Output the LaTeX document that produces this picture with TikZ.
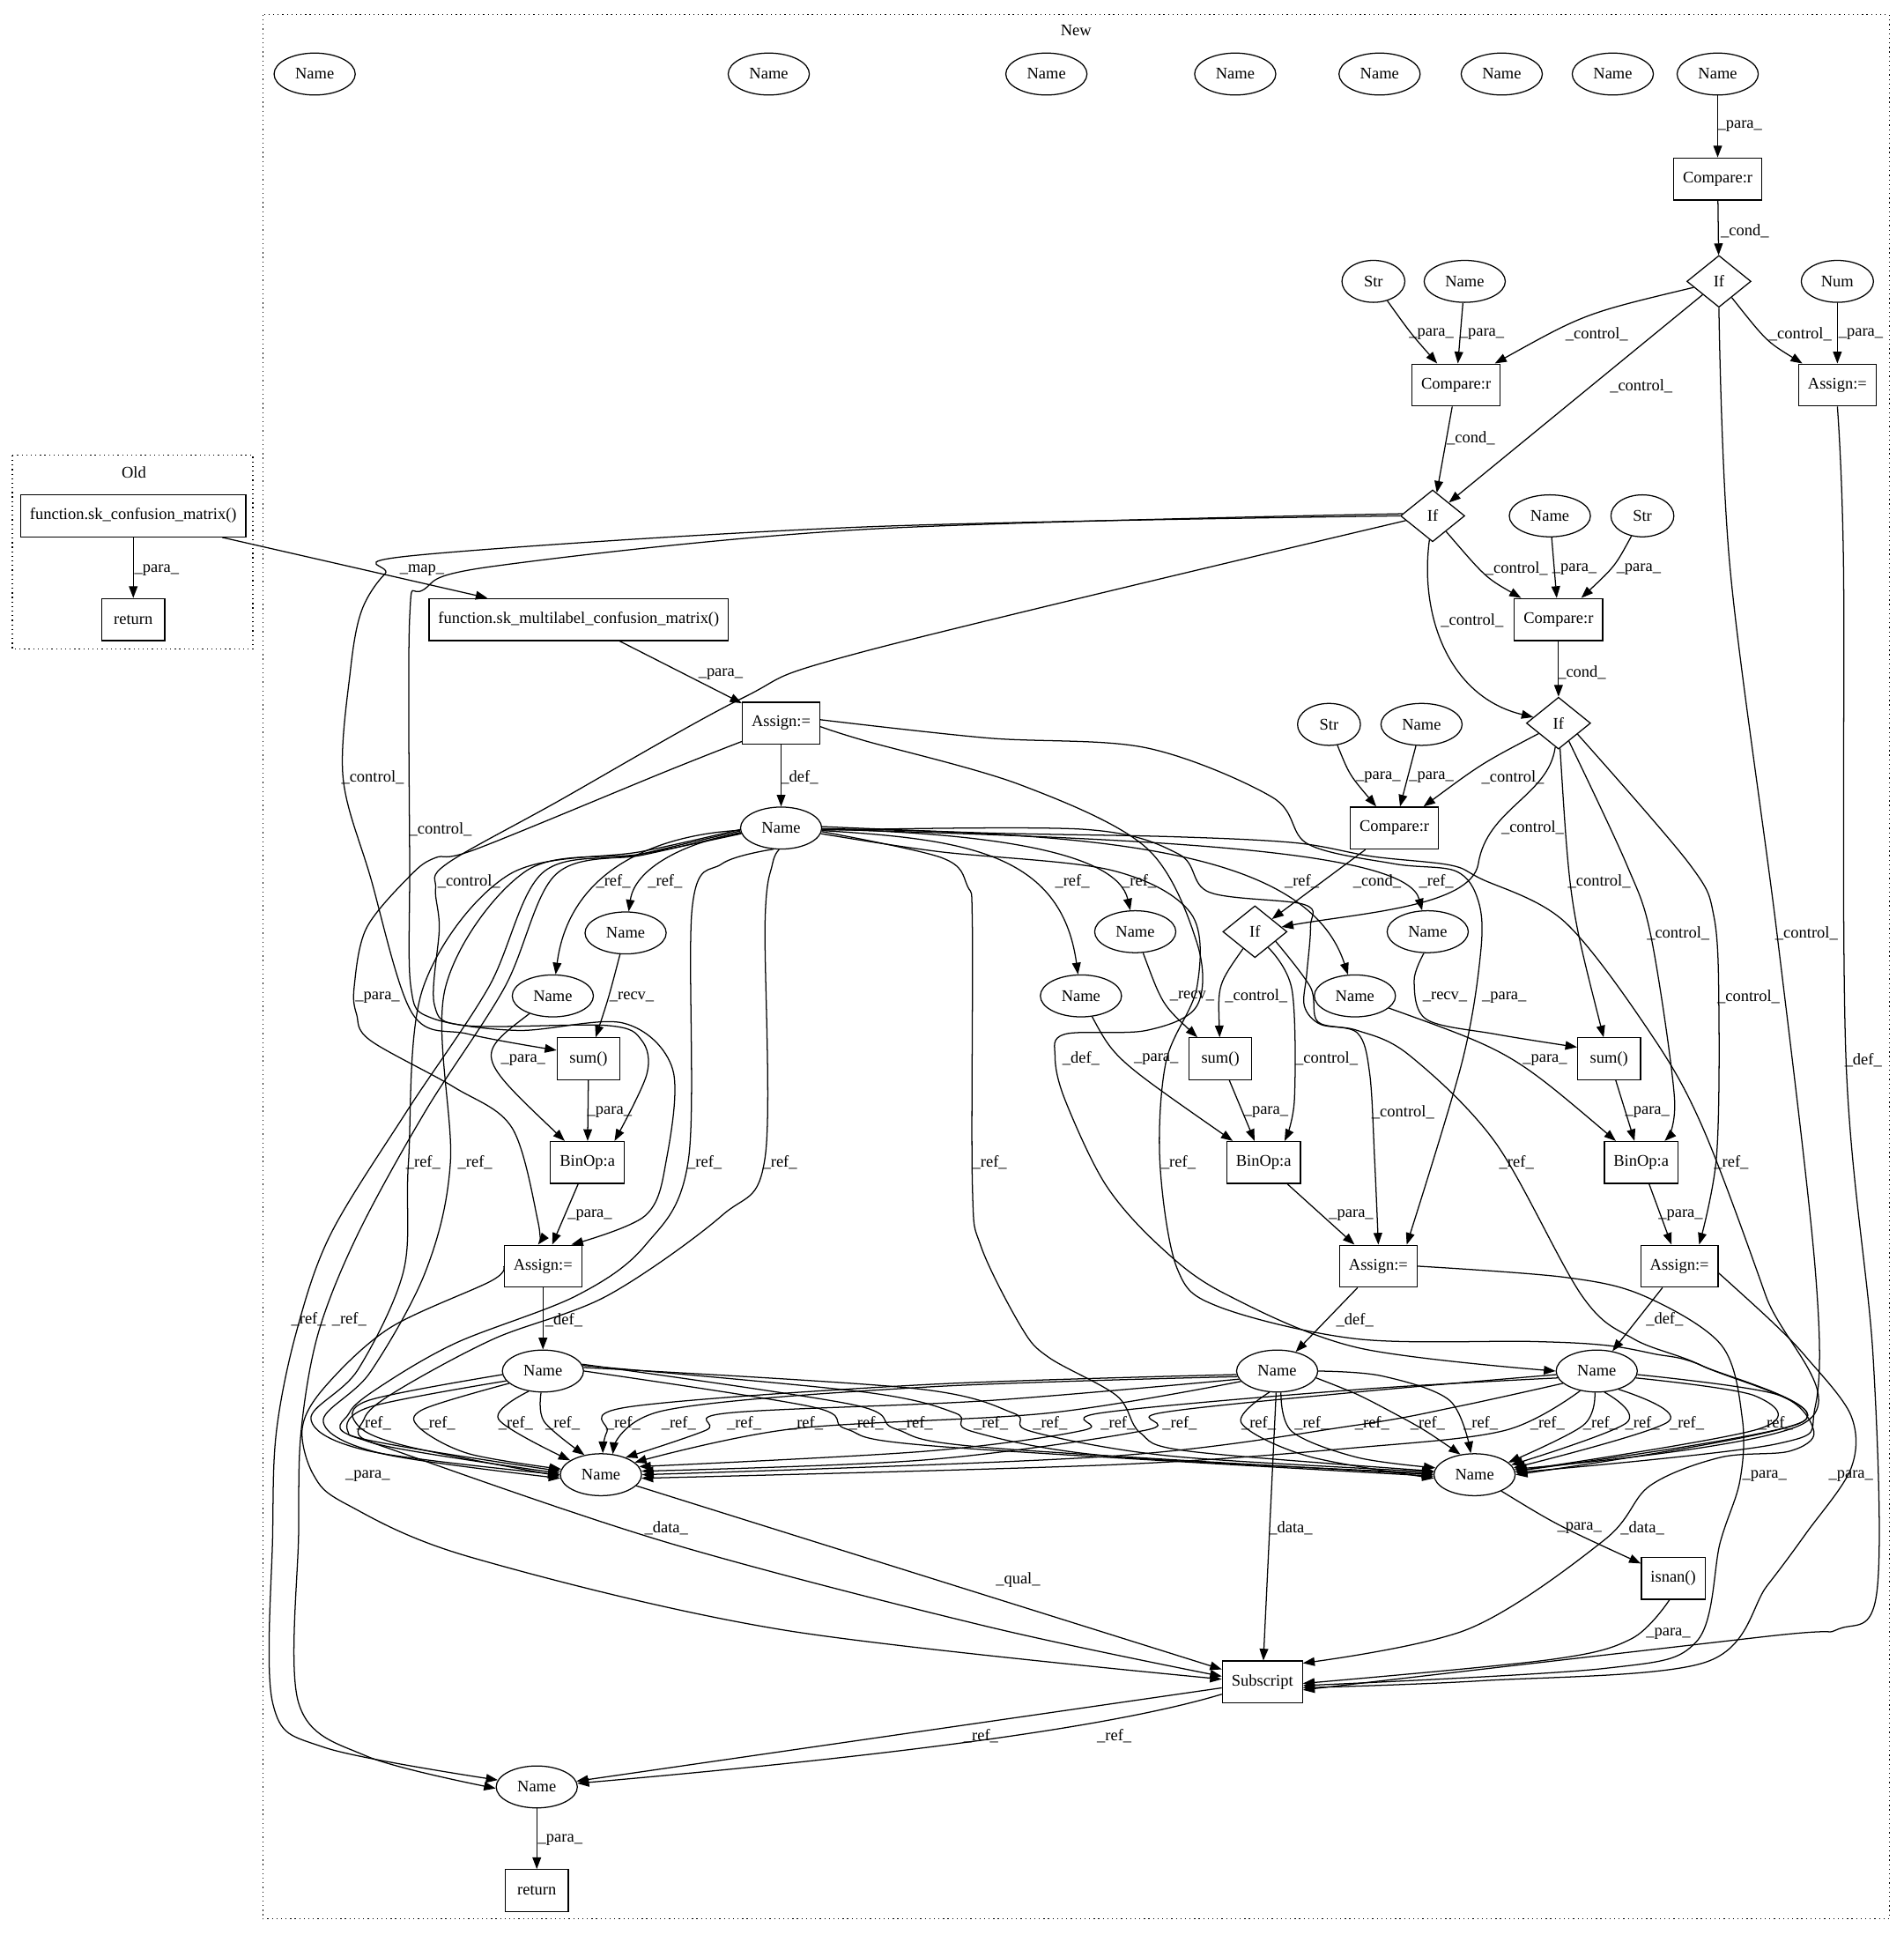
\documentclass[tikz,border=0pt]{standalone}
\usepackage{fontspec}
\setmainfont{Liberation Serif}
\usetikzlibrary{shapes.geometric,arrows.meta,calc}
\newcommand\gvf{\fontsize{13.2}{15}\selectfont}
\newcounter{lc}
\newcommand\Lb[3]{\stepcounter{lc}\node[lab] (lb\thelc) at (#1,#2) {#3};}
\newcommand\Bz[4][]{\draw[edge,#1] (#2) .. controls ($1.3333*(#4)-0.16667*(#2)-0.16667*(#3)$) .. (#3);}
\newcommand\Rt[2][]{\draw[edge,#1] plot[smooth,tension=0.55] coordinates {#2};}
\tikzset{
 base/.style={draw, line width=0.9pt, font=\gvf, inner xsep=7.5pt, inner ysep=2pt, minimum height=34pt},
 nm/.style={base, ellipse, minimum width=51pt},
 box/.style={base, rectangle, minimum width=51pt},
 dia/.style={base, diamond, minimum width=52pt, minimum height=42pt, inner sep=0pt},
 lab/.style={font=\gvf, inner sep=0.5pt},
 edge/.style={line width=0.9pt, -{Triangle[length=9.5pt,width=7pt]}},
 clus/.style={line width=0.9pt, dash pattern=on 0.9pt off 2.8pt},
}
\begin{document}
\begin{tikzpicture}[x=1pt,y=-1pt]
\fill[white] (0,0) rectangle (1543,1568);
\useasboundingbox (0,0) rectangle (1543,1568);
% clusters
\draw[clus] (10,369) rectangle (205,526);
\node[lab] (oldl) at (108.5,383) {Old};
\draw[clus] (213,12) rectangle (1531,1555);
\node[lab] (newl) at (872,25) {New};
% nodes
\node[box] (oFn) at (108,418) {function.sk\_confusion\_matrix()};
\node[box] (oRet) at (108,502) {return};
\node[nm] (t1) at (255,60) {Name};
\node[nm] (t2) at (623,60) {Name};
\node[nm] (t3) at (848,60) {Name};
\node[nm] (t4) at (1001,60) {Name};
\node[nm] (t5) at (1118,60) {Name};
\node[nm] (t6) at (1217,60) {Name};
\node[nm] (t7) at (1307,60) {Name};
\node[nm] (t8) at (1392,60) {Name};
\node[box] (cmp1) at (1392,145) {Compare:r};
\node[dia] (if1) at (1393,228) {If};
\node[nm] (str1) at (1113,228) {Str};
\node[nm] (nm1) at (1187,228) {Name};
\node[nm] (num1) at (1489,228) {Num};
\node[box] (cmp2) at (1180,312) {Compare:r};
\node[box] (asg1) at (1489,312) {Assign:=};
\node[dia] (if2) at (1161,418) {If};
\node[nm] (nm2) at (1256,418) {Name};
\node[nm] (str2) at (1331,418) {Str};
\node[box] (ml) at (469,502) {function.sk\_multilabel\_confusion\_matrix()};
\node[box] (cmp3) at (1263,502) {Compare:r};
\node[dia] (if3) at (1263,586) {If};
\node[nm] (str3) at (1077,587) {Str};
\node[nm] (nm3) at (1152,587) {Name};
\node[box] (asg0) at (633,586) {Assign:=};
\node[box] (cmp4) at (1130,671) {Compare:r};
\node[nm] (n0) at (633,671) {Name};
\node[dia] (if4) at (1017,755) {If};
\node[nm] (nA) at (507,756) {Name};
\node[nm] (nC) at (920,755) {Name};
\node[nm] (nE) at (1157,755) {Name};
\node[nm] (nB) at (448,807) {Name};
\node[nm] (nD) at (876,807) {Name};
\node[nm] (nF) at (1098,807) {Name};
\node[box] (sumL) at (477,858) {sum()};
\node[box] (sumM) at (989,858) {sum()};
\node[box] (sumR) at (1304,858) {sum()};
\node[box] (binL) at (476,942) {BinOp:a};
\node[box] (binM) at (1024,942) {BinOp:a};
\node[box] (binR) at (1330,942) {BinOp:a};
\node[box] (asgL) at (440,1026) {Assign:=};
\node[box] (asgM) at (1117,1026) {Assign:=};
\node[box] (asgR) at (1361,1026) {Assign:=};
\node[nm] (dL) at (440,1111) {Name};
\node[nm] (dM) at (1035,1111) {Name};
\node[nm] (dR) at (1294,1111) {Name};
\node[nm] (BL) at (487,1195) {Name};
\node[nm] (BR) at (1195,1195) {Name};
\node[box] (isn) at (1356,1279) {isnan()};
\node[box] (sub) at (1023,1363) {Subscript};
\node[nm] (rn) at (435,1448) {Name};
\node[box] (rb) at (435,1532) {return};
% ---- Old
\draw[edge] (oFn) -- (oRet); \Lb{127}{462}{\_para\_}
\draw[edge] ([xshift=72pt]oFn.south) -- ([xshift=-74pt]ml.north); \Lb{342}{462}{\_map\_}
% ---- top chain
\draw[edge] (t8) -- (cmp1); \Lb{1410}{102}{\_para\_}
\draw[edge] (cmp1) -- (if1); \Lb{1414}{187}{\_cond\_}
\Bz{if1}{cmp2}{1285,258} \Lb{1294}{271}{\_control\_}
\draw[edge] (if1) -- (if2); \Lb{1330}{313}{\_control\_}
\Bz{if1}{asg1}{1434,275} \Lb{1459}{271}{\_control\_}
\draw[edge] (num1) -- (asg1); \Lb{1508}{271}{\_para\_}
\Bz{str1}{cmp2}{1144,270} \Lb{1160}{271}{\_para\_}
\draw[edge] (nm1) -- (cmp2); \Lb{1201}{271}{\_para\_}
\draw[edge] (cmp2) -- (if2); \Lb{1192}{355}{\_cond\_}
\Rt{(if1.south) (1402,460) (1440,756) (1471,1028) (1471,1140) (1440,1170) (BR.3)} \Lb{1464}{756}{\_control\_}
\Rt{(asg1.south) (1494,460) (1496,859) (1518,1100) (1521,1290) (1490,1320) (1432,1326) (sub.-11)} \Lb{1510}{859}{\_def\_}
\Bz{if2}{cmp3}{1206,466} \Lb{1229}{461}{\_control\_}
\draw[edge] (nm2) -- (cmp3); \Lb{1276}{461}{\_para\_}
\Bz{str2}{cmp3}{1306,459} \Lb{1328}{461}{\_para\_}
\draw[edge] (cmp3) -- (if3); \Lb{1282}{545}{\_cond\_}
\draw[edge] (if2) .. controls (1150,500) and (1175,565) .. (if3); \Lb{1193}{503}{\_control\_}
\Bz{str3}{cmp4}{1096,628} \Lb{1117}{630}{\_para\_}
\draw[edge] (nm3) -- (cmp4); \Lb{1160}{630}{\_para\_}
\Bz{if3}{cmp4}{1200,621} \Lb{1226}{630}{\_control\_}
\draw[edge] (cmp4) -- (if4); \Lb{1116}{714}{\_cond\_}
\draw[edge] (if3) .. controls (1255,645) and (1205,655) .. (1198,700) .. controls (1192,735) and (1100,740) .. (if4); \Lb{1242}{671}{\_control\_}
\Bz{if3}{sumR}{1275,730} \Lb{1296}{714}{\_control\_}
\Rt{(if3.-60) (1318,700) (1338,759) (1357,890) ([xshift=19pt]binR.north)} \Lb{1360}{756}{\_control\_}
\Rt{(if3.-30) (1369,700) (1389,743) (1393,819) (1391,938) ([xshift=16pt]asgR.north)} \Lb{1417}{808}{\_control\_}
\Bz{if4}{sumM}{991,800} \Lb{1018}{807}{\_control\_}
\Rt{(if4.-50) (1047,802) (1049,891) ([xshift=17pt]binM.north)} \Lb{1075}{858}{\_control\_}
\Rt{(if4.-25) (1062,800) (1068,828) (1100,837) (1110,870) (1114,940) (asgM.north)} \Lb{1137}{901}{\_control\_}
% ---- if2 left controls
\Rt{(if2.180) (700,427) (337,450) (312,465) (293,495) (284,543) (278,630) (300,710) (334,821) (380,838) (sumL.165)} \Lb{302}{630}{\_control\_}
\Rt{(if2.176) (700,429) (399,459) (343,478) (332,500) (332,700) (333,800) (350,825) (420,835) (505,829) (545,866) (540,940) (523,985) ([xshift=23pt]asgL.north)} \Lb{357}{672}{\_control\_}
\Rt{(if2.190) (700,528) (601,566) (451,650) (362,700) (353,720) (356,752) (352,814) (377,831) (492,831) (520,843) (524,871) ([xshift=22pt]binL.north)} \Lb{380}{714}{\_control\_}
% ---- assign0
\draw[edge] ([xshift=33pt]ml.south) -- (asg0); \Lb{584}{546}{\_para\_}
\draw[edge] (asg0) -- (n0); \Lb{648}{630}{\_def\_}
\Rt{(asg0.-155) (540,625) (386,688) (353,695) (333,709) (297,752) (287,800) (289,822) (300,843) (368,881) (415,914) (436,990) ([xshift=-4pt]asgL.north)} \Lb{306}{808}{\_para\_}
\Rt{(asg0.5) (800,598) (929,606) (1031,646) (1060,684) (1130,700) (1180,706) (1198,730) (1200,771) (1185,860) ([xshift=23pt]asgM.north)} \Lb{1219}{808}{\_para\_}
\Rt{(asg0.-5) (700,600) (827,636) (929,687) (970,764) (970,815) (929,835) (863,838) (855,856) (863,891) (896,960) (940,1010) (992,1048) (1100,1092) (dR.west)} \Lb{876}{858}{\_def\_}
% ---- name0 refs
\draw[edge] (n0) .. controls (540,676) and (462,700) .. (nB); \Lb{497}{714}{\_ref\_}
\draw[edge] (n0) .. controls (565,680) and (515,700) .. (nA); \Lb{539}{714}{\_ref\_}
\draw[edge] (n0) .. controls (780,680) and (860,690) .. (nD); \Lb{869}{714}{\_ref\_}
\draw[edge] (n0) .. controls (800,675) and (905,690) .. (nC); \Lb{923}{714}{\_ref\_}
\draw[edge] (n0) .. controls (900,675) and (1060,690) .. (nF); \Lb{1055}{714}{\_ref\_}
\draw[edge] (n0) .. controls (950,680) and (1140,690) .. (nE); \Lb{1164}{714}{\_ref\_}
\Rt{(n0.182) (520,690) (412,709) (343,800) (331,942) (327,1030) (290,1110) (252,1150) (300,1176) (BL.180)} \Lb{343}{942}{\_ref\_}
\Rt{(n0.188) (520,692) (426,706) (361,800) (365,942) (345,1030) (300,1112) (262,1152) (310,1178) (BL.185)} \Lb{385}{942}{\_ref\_}
\Rt{(n0.186) (520,693) (440,707) (396,800) (330,900) (268,1000) (240,1080) (224,1160) (221,1242) (221,1380) (263,1416) (rn.170)} \Lb{250}{1069}{\_ref\_}
\Rt{(n0.184) (520,692) (450,709) (409,800) (345,900) (290,1000) (258,1080) (244,1160) (242,1242) (242,1380) (297,1423) (rn.182)} \Lb{283}{1069}{\_ref\_}
\Rt{(n0.250) (585,700) (561,735) (558,939) (523,1009) (467,1050) (370,1088) (309,1123) (283,1145) (290,1165) (BL.175)} \Lb{571}{942}{\_ref\_}
\Rt{(n0.265) (626,700) (620,747) (620,938) (585,985) (492,1050) (400,1085) (320,1128) (295,1150) (305,1170) (BL.178)} \Lb{632}{942}{\_ref\_}
\Rt{(n0.-5) (763,695) (784,718) (788,751) (788,960) (795,1010) (828,1076) (850,1100) (905,1131) (924,1161) (964,1176) (BR.175)} \Lb{802}{942}{\_ref\_}
\Rt{(n0.-8) (760,690) (900,705) (965,740) (970,800) (945,860) (940,942) (954,1028) (988,1059) (1100,1085) (1240,1087) (1300,1090) (1340,1097) (1380,1107) (1461,1152) (BR.0)} \Lb{955}{942}{\_ref\_}
\Rt{(n0.-3) (878,672) (955,692) (980,723) (1057,733) (1062,751) (1059,789) (1057,815) (1070,830) (1100,835) (1142,855) (1212,926) (1282,1050) (1324,1085) (1380,1107) (1461,1152) (BR.5)} \Lb{1229}{942}{\_ref\_}
\Rt{(n0.2) (800,675) (950,678) (1050,683) (1112,694) (1175,701) (1200,712) (1268,747) (1338,838) (1380,914) (1431,1050) (1464,1152) (BR.8)} \Lb{1403}{942}{\_ref\_}
% ---- middle
\Bz{nA}{sumL}{493,808} \Lb{512}{808}{\_recv\_}
\Bz{nB}{binL}{404,860} \Lb{424}{859}{\_para\_}
\draw[edge] (sumL) -- (binL); \Lb{494}{901}{\_para\_}
\draw[edge] (binL) -- (asgL); \Lb{478}{985}{\_para\_}
\Bz{nC}{sumM}{945,812} \Lb{966}{807}{\_recv\_}
\Bz{nD}{binM}{915,862} \Lb{937}{858}{\_para\_}
\draw[edge] (sumM) -- (binM); \Lb{1026}{901}{\_para\_}
\draw[edge] (binM) -- (asgM); \Lb{1095}{985}{\_para\_}
\Rt{(nE.-100) (1146,795) (1156,826) (1212,838) (sumR.160)} \Lb{1171}{808}{\_recv\_}
\Bz{nF}{binR}{1222,858} \Lb{1252}{859}{\_para\_}
\draw[edge] (sumR) -- (binR); \Lb{1335}{901}{\_para\_}
\draw[edge] (binR) -- (asgR); \Lb{1362}{985}{\_para\_}
\draw[edge] (asgL) -- (dL); \Lb{457}{1070}{\_def\_}
\draw[edge] (asgM) -- (dM); \Lb{1098}{1070}{\_def\_}
\draw[edge] (asgR) -- (dR); \Lb{1349}{1069}{\_def\_}
% ---- bottom refs
\Rt{(dL.185) (298,1135) (290,1155) (330,1172) (BL.182)} \Lb{303}{1153}{\_ref\_}
\Rt{(dL.200) (343,1142) (340,1157) (380,1178) (BL.172)} \Lb{355}{1153}{\_ref\_}
\Rt{(dL.235) (404,1150) (BL.155)} \Lb{418}{1153}{\_ref\_}
\Rt{(dL.265) (441,1152) (BL.130)} \Lb{456}{1153}{\_ref\_}
\Rt{(dL.0) (658,1140) (686,1158) (760,1172) (BR.182)} \Lb{702}{1153}{\_ref\_}
\Rt{(dL.10) (690,1138) (726,1158) (800,1173) (BR.180)} \Lb{742}{1153}{\_ref\_}
\Rt{(dL.8) (700,1128) (774,1145) (788,1160) (900,1180) (BR.178)} \Lb{803}{1153}{\_ref\_}
\Rt{(dL.5) (740,1125) (821,1145) (836,1160) (950,1180) (BR.176)} \Lb{851}{1153}{\_ref\_}
\Rt{(dM.185) (750,1122) (510,1140) (492,1160) (BL.85)} \Lb{505}{1153}{\_ref\_}
\Rt{(dM.188) (750,1124) (538,1143) (BL.60)} \Lb{550}{1153}{\_ref\_}
\Rt{(dM.192) (800,1135) (590,1145) (572,1159) (BL.35)} \Lb{603}{1153}{\_ref\_}
\Rt{(dM.196) (850,1145) (641,1158) (BL.20)} \Lb{653}{1153}{\_ref\_}
\Rt{(dM.250) (1006,1153) (1060,1180) (BR.185)} \Lb{1020}{1153}{\_ref\_}
\Rt{(dM.280) (1047,1160) (1100,1181) (BR.170)} \Lb{1063}{1153}{\_ref\_}
\Rt{(dM.-10) (1100,1130) (1133,1147) (1156,1160) (BR.125)} \Lb{1157}{1153}{\_ref\_}
\Rt{(dM.0) (1120,1115) (1175,1135) (BR.100)} \Lb{1200}{1153}{\_ref\_}
\Rt{(dR.190) (1100,1126) (892,1145) (878,1159) (750,1176) (BL.12)} \Lb{906}{1153}{\_ref\_}
\Rt{(dR.185) (1100,1128) (940,1145) (928,1159) (750,1183) (BL.5)} \Lb{956}{1153}{\_ref\_}
\Rt{(dR.200) (1180,1140) (1098,1155) (900,1180) (BL.0)} \Lb{1112}{1153}{\_ref\_}
\Rt{(dR.230) (1220,1159) (1100,1173) (900,1187) (BL.-5)} \Lb{1254}{1153}{\_ref\_}
\Rt{(dR.265) (1283,1155) (BR.20)} \Lb{1297}{1153}{\_ref\_}
\Rt{(dR.-70) (1318,1153) (BR.15)} \Lb{1331}{1153}{\_ref\_}
\Rt{(dR.-40) (1352,1152) (BR.10)} \Lb{1367}{1153}{\_ref\_}
\Rt{(dR.-10) (1422,1131) (1425,1158) (BR.5)} \Lb{1439}{1153}{\_ref\_}
% ---- subscript
\Rt{(dL.195) (300,1140) (282,1160) (316,1174) (541,1250) (800,1318) (sub.172)} \Lb{540}{1238}{\_data\_}
\Rt{(asgL.west) (398,1038) (316,1076) (264,1123) (245,1157) (254,1195) (281,1219) (382,1262) (636,1321) (sub.176)} \Lb{298}{1196}{\_para\_}
\draw[edge] (BL) -- (sub); \Lb{825}{1280}{\_qual\_}
\draw[edge] (dM) -- (sub); \Lb{1046}{1238}{\_data\_}
\Rt{(dR.-5) (1440,1130) (1470,1160) (1450,1176) (1394,1181) (1337,1204) (1300,1248) (1190,1320) (sub.25)} \Lb{1331}{1238}{\_data\_}
\Bz{BR}{isn}{1265,1236} \Lb{1280}{1238}{\_para\_}
\Rt{(isn.-100) (1322,1328) (1255,1345) (sub.-2)} \Lb{1352}{1324}{\_para\_}
\Rt{(asgM.east) (1268,1035) (1332,1050) (1395,1090) (1412,1150) (1410,1200) (1394,1250) (1375,1330) (1300,1352) (sub.-5)} \Lb{1430}{1196}{\_para\_}
\Rt{(asgR.-10) (1436,1071) (1464,1100) (1500,1147) (1500,1190) (1464,1242) (1432,1285) (1382,1347) (1200,1362) (sub.-8)} \Lb{1500}{1196}{\_para\_}
\draw[edge] (sub) -- (rn); \Lb{795}{1407}{\_ref\_}
\draw[edge] (sub) .. controls (900,1400) and (720,1423) .. (rn); \Lb{903}{1407}{\_ref\_}
\draw[edge] (rn) -- (rb); \Lb{454}{1491}{\_para\_}
\end{tikzpicture}
\end{document}
